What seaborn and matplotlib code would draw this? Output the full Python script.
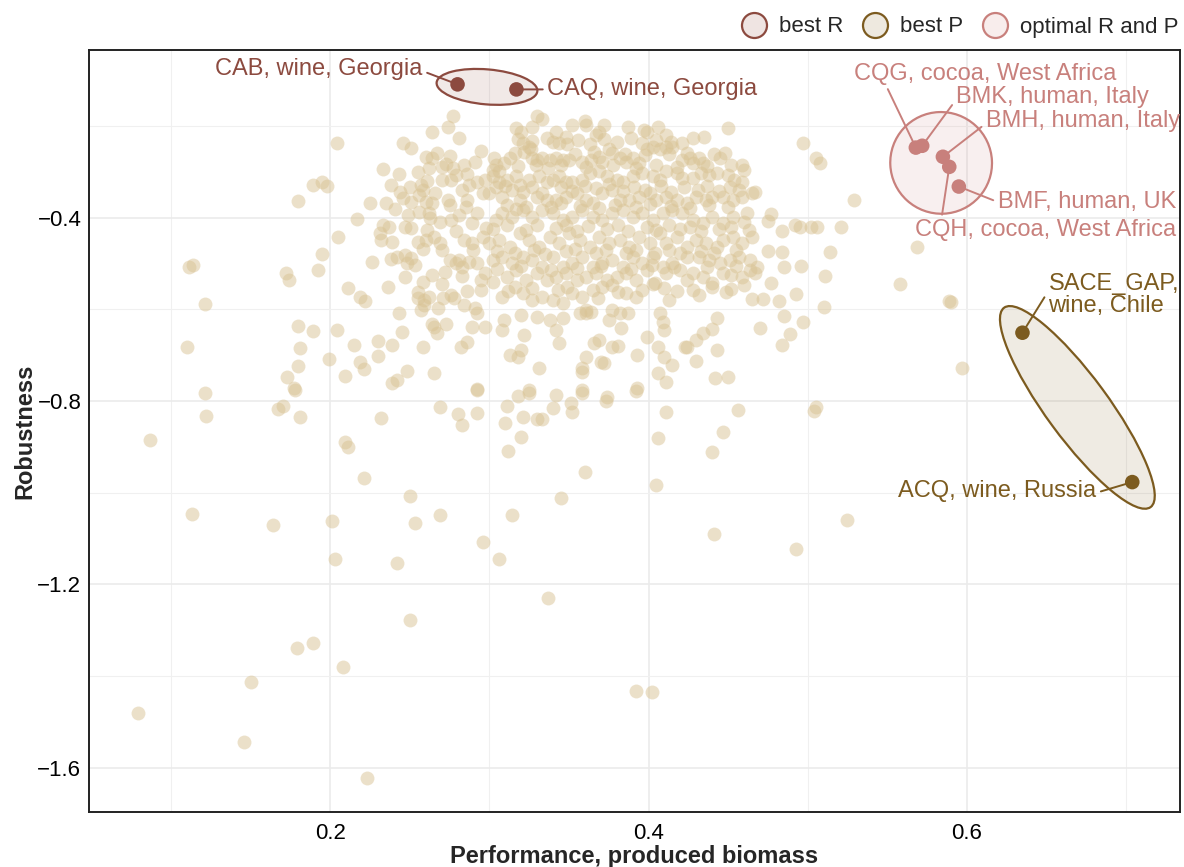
import numpy as np
import pandas as pd
import matplotlib
matplotlib.use("Agg")
import matplotlib.pyplot as plt
import seaborn as sns
from matplotlib.patches import Ellipse
from matplotlib.lines import Line2D
from matplotlib.transforms import IdentityTransform
from matplotlib.colors import to_rgba
from matplotlib.ticker import MultipleLocator

# --- datos: (performance, robustness) para el resto de organismos ---
cloud_outer = [
    (0.121, -0.783), (0.122, -0.833), (0.167, -0.817), (0.170, -0.811), (0.178, -0.776), (0.181, -0.835),
    (0.087, -0.885), (0.232, -0.837), (0.209, -0.890), (0.211, -0.901), (0.221, -0.968), (0.269, -0.813),
    (0.280, -0.828), (0.283, -0.852), (0.292, -0.826), (0.292, -0.776), (0.311, -0.811), (0.310, -0.848),
    (0.318, -0.789), (0.325, -0.783), (0.321, -0.835), (0.320, -0.879), (0.312, -0.909), (0.330, -0.839),
    (0.250, -1.008), (0.113, -1.047), (0.164, -1.071), (0.201, -1.062), (0.253, -1.067), (0.269, -1.049),
    (0.314, -1.049), (0.296, -1.108), (0.203, -1.145), (0.242, -1.154), (0.306, -1.145), (0.250, -1.279),
    (0.179, -1.340), (0.189, -1.329), (0.208, -1.381), (0.150, -1.414), (0.079, -1.480), (0.146, -1.545),
    (0.223, -1.622), (0.342, -0.787), (0.358, -0.783), (0.392, -0.778), (0.340, -0.815), (0.351, -0.804),
    (0.352, -0.824), (0.333, -0.839), (0.373, -0.800), (0.411, -0.824), (0.456, -0.820), (0.505, -0.813),
    (0.504, -0.822), (0.406, -0.881), (0.447, -0.868), (0.440, -0.911), (0.360, -0.955), (0.405, -0.984),
    (0.345, -1.012), (0.441, -1.091), (0.493, -1.123), (0.525, -1.060), (0.337, -1.231), (0.392, -1.432),
    (0.402, -1.436), (0.497, -0.238), (0.505, -0.269), (0.508, -0.280), (0.529, -0.361), (0.492, -0.417),
    (0.495, -0.420), (0.502, -0.420), (0.506, -0.420), (0.521, -0.420), (0.484, -0.428), (0.484, -0.474),
    (0.514, -0.474), (0.485, -0.507), (0.496, -0.505), (0.511, -0.527), (0.569, -0.463), (0.558, -0.544),
    (0.589, -0.581), (0.590, -0.584), (0.482, -0.581), (0.493, -0.566), (0.485, -0.614), (0.510, -0.595),
    (0.497, -0.627), (0.489, -0.654), (0.484, -0.678), (0.597, -0.728), (0.477, -0.391), (0.475, -0.407),
    (0.475, -0.472), (0.477, -0.542), (0.472, -0.577), (0.465, -0.577), (0.470, -0.640), (0.467, -0.343),
    (0.459, -0.286), (0.460, -0.295), (0.450, -0.205), (0.435, -0.223),
]

cloud_left = [
    (0.277, -0.177), (0.264, -0.212), (0.274, -0.203), (0.281, -0.227), (0.204, -0.238), (0.246, -0.236),
    (0.251, -0.247), (0.295, -0.254), (0.260, -0.267), (0.264, -0.269), (0.267, -0.258), (0.233, -0.293),
    (0.243, -0.304), (0.270, -0.289), (0.273, -0.282), (0.277, -0.291), (0.279, -0.306), (0.270, -0.317),
    (0.276, -0.317), (0.189, -0.328), (0.195, -0.323), (0.198, -0.330), (0.238, -0.328), (0.244, -0.343),
    (0.250, -0.332), (0.257, -0.328), (0.258, -0.339), (0.256, -0.350), (0.180, -0.363), (0.225, -0.367),
    (0.235, -0.369), (0.241, -0.380), (0.251, -0.365), (0.260, -0.365), (0.264, -0.367), (0.274, -0.361),
    (0.275, -0.372), (0.286, -0.361), (0.287, -0.328), (0.292, -0.321), (0.297, -0.317), (0.296, -0.345),
    (0.217, -0.402), (0.256, -0.387), (0.262, -0.389), (0.269, -0.409), (0.276, -0.404), (0.289, -0.411),
    (0.292, -0.389), (0.233, -0.415), (0.237, -0.420), (0.231, -0.433), (0.232, -0.448), (0.239, -0.452),
    (0.247, -0.420), (0.251, -0.422), (0.205, -0.442), (0.255, -0.452), (0.260, -0.448), (0.269, -0.455),
    (0.265, -0.442), (0.284, -0.448), (0.289, -0.455), (0.296, -0.442), (0.298, -0.422), (0.195, -0.479),
    (0.226, -0.496), (0.238, -0.490), (0.242, -0.485), (0.247, -0.481), (0.251, -0.487), (0.253, -0.503),
    (0.248, -0.498), (0.275, -0.492), (0.279, -0.498), (0.283, -0.507), (0.287, -0.496), (0.292, -0.498),
    (0.281, -0.492), (0.247, -0.529), (0.258, -0.540), (0.264, -0.525), (0.272, -0.518), (0.295, -0.536),
    (0.297, -0.520), (0.111, -0.507), (0.114, -0.503), (0.172, -0.520), (0.174, -0.536), (0.192, -0.514),
    (0.211, -0.553), (0.236, -0.551), (0.219, -0.573), (0.222, -0.581), (0.255, -0.562), (0.255, -0.575),
    (0.259, -0.579), (0.262, -0.573), (0.271, -0.575), (0.276, -0.568), (0.278, -0.575), (0.286, -0.560),
    (0.295, -0.557), (0.257, -0.601), (0.259, -0.590), (0.291, -0.597), (0.292, -0.608), (0.121, -0.588),
    (0.243, -0.608), (0.180, -0.636), (0.189, -0.647), (0.204, -0.645), (0.264, -0.632), (0.265, -0.638),
    (0.267, -0.651), (0.273, -0.632), (0.289, -0.638), (0.297, -0.638), (0.245, -0.649), (0.110, -0.682),
    (0.181, -0.684), (0.215, -0.678), (0.230, -0.669), (0.230, -0.702), (0.239, -0.678), (0.258, -0.682),
    (0.282, -0.682), (0.286, -0.671), (0.199, -0.708), (0.180, -0.723), (0.173, -0.748), (0.177, -0.772),
    (0.209, -0.745), (0.219, -0.715), (0.221, -0.730), (0.239, -0.761), (0.242, -0.754), (0.248, -0.734),
    (0.265, -0.739), (0.292, -0.774),
    (0.249, -0.395), (0.263, -0.400), (0.281, -0.395), (0.285, -0.377), (0.283, -0.340), (0.261, -0.320),
    (0.266, -0.345), (0.246, -0.356), (0.255, -0.300), (0.262, -0.291), (0.286, -0.305), (0.291, -0.278),
    (0.284, -0.284), (0.275, -0.265), (0.261, -0.427), (0.279, -0.430), (0.290, -0.470), (0.270, -0.470),
    (0.258, -0.468), (0.283, -0.527), (0.270, -0.545), (0.284, -0.590), (0.268, -0.598),
]

cloud_core_top = [
    (0.330, -0.179), (0.333, -0.184), (0.317, -0.205), (0.320, -0.214), (0.327, -0.201), (0.352, -0.197),
    (0.360, -0.188), (0.361, -0.197), (0.372, -0.197), (0.369, -0.214), (0.367, -0.219), (0.387, -0.203),
    (0.397, -0.208), (0.399, -0.214), (0.406, -0.201), (0.411, -0.219), (0.421, -0.236), (0.414, -0.234),
    (0.342, -0.214), (0.348, -0.223), (0.349, -0.240), (0.340, -0.234), (0.321, -0.236), (0.325, -0.245),
    (0.318, -0.228), (0.327, -0.232), (0.336, -0.226), (0.344, -0.236), (0.356, -0.230), (0.363, -0.240),
    (0.372, -0.228), (0.380, -0.235), (0.389, -0.226), (0.396, -0.238), (0.405, -0.230), (0.428, -0.226),
    (0.303, -0.269), (0.304, -0.284), (0.302, -0.295), (0.306, -0.299), (0.313, -0.269), (0.316, -0.258),
    (0.322, -0.256), (0.326, -0.251), (0.327, -0.269), (0.330, -0.273), (0.333, -0.269), (0.338, -0.273),
    (0.342, -0.269), (0.346, -0.273), (0.350, -0.273), (0.358, -0.278), (0.364, -0.273), (0.369, -0.267),
    (0.371, -0.278), (0.375, -0.251), (0.377, -0.258), (0.382, -0.269), (0.386, -0.278), (0.390, -0.269),
    (0.394, -0.280), (0.399, -0.251), (0.403, -0.245), (0.407, -0.251), (0.411, -0.245), (0.415, -0.245),
    (0.421, -0.273), (0.426, -0.269), (0.428, -0.280), (0.432, -0.269), (0.434, -0.280), (0.445, -0.269),
    (0.448, -0.258),
    (0.309, -0.280), (0.318, -0.287), (0.329, -0.284), (0.337, -0.291), (0.345, -0.286), (0.354, -0.262),
    (0.361, -0.290), (0.366, -0.256), (0.378, -0.286), (0.385, -0.262), (0.392, -0.291), (0.398, -0.264),
    (0.405, -0.284), (0.413, -0.262), (0.418, -0.289), (0.424, -0.258), (0.437, -0.287), (0.441, -0.262),
    (0.452, -0.284),
    (0.302, -0.310), (0.306, -0.323), (0.311, -0.317), (0.317, -0.310), (0.319, -0.328), (0.325, -0.317),
    (0.331, -0.310), (0.336, -0.323), (0.340, -0.317), (0.344, -0.310), (0.348, -0.323), (0.352, -0.323),
    (0.358, -0.317), (0.363, -0.302), (0.369, -0.299), (0.374, -0.310), (0.380, -0.317), (0.384, -0.323),
    (0.390, -0.310), (0.396, -0.302), (0.403, -0.310), (0.407, -0.317), (0.411, -0.299), (0.418, -0.302),
    (0.421, -0.313), (0.428, -0.313), (0.433, -0.302), (0.438, -0.306), (0.443, -0.302), (0.450, -0.306),
    (0.454, -0.317), (0.459, -0.323),
]

cloud_core_mid = [
    (0.300, -0.345), (0.310, -0.330), (0.321, -0.343), (0.327, -0.332), (0.333, -0.345), (0.345, -0.334),
    (0.352, -0.341), (0.360, -0.330), (0.367, -0.336), (0.375, -0.326), (0.384, -0.341), (0.391, -0.332),
    (0.398, -0.339), (0.408, -0.330), (0.414, -0.343), (0.422, -0.334), (0.431, -0.339), (0.437, -0.330),
    (0.444, -0.341), (0.451, -0.334), (0.457, -0.339),
    (0.304, -0.334), (0.308, -0.354), (0.314, -0.339), (0.319, -0.361), (0.323, -0.376), (0.330, -0.354),
    (0.336, -0.361), (0.342, -0.361), (0.348, -0.354), (0.355, -0.345), (0.361, -0.361), (0.365, -0.367),
    (0.371, -0.345), (0.377, -0.339), (0.382, -0.361), (0.388, -0.361), (0.394, -0.354), (0.401, -0.345),
    (0.405, -0.361), (0.411, -0.354), (0.418, -0.361), (0.424, -0.367), (0.430, -0.354), (0.436, -0.361),
    (0.440, -0.354), (0.447, -0.354), (0.453, -0.361), (0.459, -0.354), (0.465, -0.345),
    (0.311, -0.372), (0.317, -0.380), (0.339, -0.376), (0.345, -0.369), (0.357, -0.374), (0.369, -0.378),
    (0.379, -0.372), (0.392, -0.376), (0.401, -0.370), (0.414, -0.374), (0.426, -0.378), (0.438, -0.372),
    (0.450, -0.376),
    (0.304, -0.404), (0.308, -0.389), (0.314, -0.398), (0.321, -0.383), (0.327, -0.398), (0.333, -0.383),
    (0.340, -0.389), (0.346, -0.404), (0.352, -0.398), (0.358, -0.383), (0.365, -0.398), (0.371, -0.404),
    (0.377, -0.389), (0.384, -0.383), (0.390, -0.398), (0.396, -0.389), (0.403, -0.404), (0.409, -0.389),
    (0.415, -0.383), (0.421, -0.389), (0.428, -0.404), (0.434, -0.411), (0.440, -0.398), (0.447, -0.411),
    (0.453, -0.398), (0.462, -0.389), (0.460, -0.409),
    (0.302, -0.424), (0.311, -0.417), (0.323, -0.426), (0.330, -0.415), (0.342, -0.422), (0.348, -0.417),
    (0.355, -0.428), (0.362, -0.419), (0.374, -0.424), (0.381, -0.415), (0.387, -0.428), (0.399, -0.420),
    (0.405, -0.426), (0.413, -0.415), (0.420, -0.424), (0.426, -0.420), (0.433, -0.430), (0.444, -0.424),
    (0.452, -0.420), (0.463, -0.426),
    (0.300, -0.455), (0.306, -0.448), (0.313, -0.463), (0.319, -0.433), (0.325, -0.448), (0.331, -0.463),
    (0.338, -0.442), (0.344, -0.455), (0.350, -0.433), (0.357, -0.448), (0.363, -0.463), (0.369, -0.442),
    (0.375, -0.455), (0.382, -0.448), (0.388, -0.463), (0.394, -0.442), (0.401, -0.455), (0.407, -0.433),
    (0.411, -0.455), (0.418, -0.442), (0.424, -0.463), (0.430, -0.448), (0.436, -0.455), (0.443, -0.463),
    (0.447, -0.448), (0.453, -0.442), (0.459, -0.455), (0.465, -0.442),
    (0.305, -0.472), (0.316, -0.478), (0.328, -0.470), (0.335, -0.480), (0.348, -0.472), (0.354, -0.468),
    (0.367, -0.476), (0.373, -0.470), (0.386, -0.478), (0.392, -0.470), (0.404, -0.476), (0.413, -0.470),
    (0.420, -0.478), (0.433, -0.472), (0.441, -0.478), (0.455, -0.470),
    (0.302, -0.492), (0.308, -0.485), (0.314, -0.498), (0.321, -0.485), (0.327, -0.492), (0.333, -0.507),
    (0.340, -0.485), (0.346, -0.507), (0.352, -0.498), (0.358, -0.485), (0.365, -0.507), (0.371, -0.498),
    (0.377, -0.492), (0.384, -0.507), (0.390, -0.485), (0.396, -0.498), (0.403, -0.485), (0.409, -0.507),
    (0.415, -0.498), (0.424, -0.485), (0.432, -0.485), (0.438, -0.492), (0.445, -0.498), (0.451, -0.492),
    (0.457, -0.485), (0.464, -0.492), (0.468, -0.507),
]

cloud_core_low = [
    (0.305, -0.512), (0.320, -0.505), (0.339, -0.514), (0.355, -0.510), (0.370, -0.505), (0.389, -0.512),
    (0.402, -0.503), (0.420, -0.514), (0.437, -0.507), (0.455, -0.505),
    (0.302, -0.540), (0.311, -0.529), (0.317, -0.514), (0.323, -0.536), (0.330, -0.520), (0.336, -0.536),
    (0.342, -0.529), (0.348, -0.520), (0.355, -0.536), (0.361, -0.529), (0.367, -0.520), (0.374, -0.536),
    (0.380, -0.529), (0.386, -0.520), (0.392, -0.536), (0.399, -0.514), (0.404, -0.542), (0.411, -0.520),
    (0.416, -0.507), (0.424, -0.536), (0.428, -0.520), (0.434, -0.529), (0.440, -0.542), (0.447, -0.520),
    (0.452, -0.525), (0.459, -0.529), (0.464, -0.514), (0.467, -0.520),
    (0.312, -0.560), (0.327, -0.553), (0.343, -0.557), (0.349, -0.551), (0.365, -0.557), (0.371, -0.551),
    (0.396, -0.557), (0.410, -0.553), (0.418, -0.560), (0.452, -0.555),
    (0.308, -0.573), (0.316, -0.551), (0.321, -0.564), (0.327, -0.579), (0.333, -0.573), (0.340, -0.579),
    (0.346, -0.586), (0.352, -0.564), (0.358, -0.573), (0.361, -0.601), (0.368, -0.575), (0.377, -0.546),
    (0.381, -0.562), (0.386, -0.564), (0.392, -0.573), (0.403, -0.544), (0.413, -0.579), (0.428, -0.557),
    (0.432, -0.568), (0.440, -0.551), (0.449, -0.562), (0.460, -0.546),
    (0.309, -0.623), (0.308, -0.645), (0.320, -0.612), (0.322, -0.656), (0.330, -0.616), (0.338, -0.623),
    (0.342, -0.645), (0.346, -0.619), (0.357, -0.608), (0.361, -0.608), (0.364, -0.605), (0.375, -0.623),
    (0.377, -0.601), (0.382, -0.608), (0.387, -0.608), (0.383, -0.640), (0.377, -0.682), (0.369, -0.667),
    (0.407, -0.608), (0.409, -0.627), (0.410, -0.645), (0.424, -0.682), (0.430, -0.667), (0.434, -0.651),
    (0.440, -0.643), (0.443, -0.619), (0.443, -0.689), (0.430, -0.713),
    (0.313, -0.699), (0.318, -0.704), (0.320, -0.689), (0.325, -0.776), (0.331, -0.728), (0.344, -0.673),
    (0.358, -0.728), (0.358, -0.737), (0.358, -0.776), (0.361, -0.704), (0.366, -0.673), (0.370, -0.715),
    (0.372, -0.717), (0.374, -0.791), (0.381, -0.680), (0.393, -0.699), (0.393, -0.772), (0.399, -0.660),
    (0.406, -0.682), (0.410, -0.704), (0.406, -0.739), (0.411, -0.758), (0.415, -0.721), (0.423, -0.682),
    (0.442, -0.750), (0.450, -0.748),
]

# --- organismos destacados ---
best_r_names = ["CAB, wine, Georgia", "CAQ, wine, Georgia"]
best_r_perf = [0.280, 0.317]
best_r_rob = [-0.109, -0.120]

best_p_names = ["SACE_GAP,\nwine, Chile", "ACQ, wine, Russia"]
best_p_perf = [0.635, 0.704]
best_p_rob = [-0.651, -0.977]

optimal_names = ["CQG, cocoa, West Africa", "BMK, human, Italy", "BMH, human, Italy",
                 "CQH, cocoa, West Africa", "BMF, human, UK"]
optimal_perf = [0.568, 0.572, 0.585, 0.589, 0.595]
optimal_rob = [-0.247, -0.243, -0.267, -0.289, -0.332]

group_labels = ["best R", "best P", "optimal R and P"]

# cores
cor_fundo = "#D9C394"
cores_grupo = {"best R": "#8C4A3F", "best P": "#7C5B1F", "optimal R and P": "#C8807C"}

# posicao dos rotulos (deslocamento em pixels, alinhamento, ponto de saida da linha)
estilo_rotulos = {
    "CAB, wine, Georgia": ((-35, 15.5), "right", (1.0, 0.4)),
    "CAQ, wine, Georgia": ((31, 0), "left", (0.0, 0.5)),
    "CQG, cocoa, West Africa": ((69.5, 74), "center", (0.12, 0.0)),
    "BMK, human, Italy": ((34, 48.5), "left", (0.0, 0.4)),
    "BMH, human, Italy": ((43, 35.5), "left", (0.0, 0.4)),
    "CQH, cocoa, West Africa": ((-34, -63.5), "left", (0.1, 1.0)),
    "BMF, human, UK": ((39, -15.5), "left", (0.0, 0.5)),
    "SACE_GAP,\nwine, Chile": ((26, 37.5), "left", (0.0, 0.6)),
    "ACQ, wine, Russia": ((-36, -8.5), "right", (1.0, 0.4)),
}

# --- montagem dos dataframes ---
todos = cloud_outer + cloud_left + cloud_core_top + cloud_core_mid + cloud_core_low
df_fundo = pd.DataFrame(todos, columns=["performance", "robustness"])

df_dest = pd.concat([
    pd.DataFrame({"name": best_r_names, "performance": best_r_perf, "robustness": best_r_rob, "group": "best R"}),
    pd.DataFrame({"name": best_p_names, "performance": best_p_perf, "robustness": best_p_rob, "group": "best P"}),
    pd.DataFrame({"name": optimal_names, "performance": optimal_perf, "robustness": optimal_rob,
                  "group": "optimal R and P"}),
], ignore_index=True)

sns.set_theme(style="white")
plt.rcParams["font.family"] = ["Liberation Sans", "DejaVu Sans"]
plt.rcParams["axes.unicode_minus"] = True

fig = plt.figure(figsize=(11.84, 8.67), dpi=100)
ax = fig.add_axes([89 / 1184, 1 - 812 / 867, (1180 - 89) / 1184, (812 - 50) / 867])
ax.set_xlim(0.0484, 0.734)
ax.set_ylim(-1.697, -0.034)

sns.scatterplot(data=df_fundo, x="performance", y="robustness", color=cor_fundo, alpha=0.5,
                s=100, linewidth=0, ax=ax, zorder=2, legend=False)


def desenhar_elipse(ax, xs, ys, pad_maior, pad_menor, cor):
    pts = ax.transData.transform(np.column_stack([xs, ys]))
    c = pts.mean(axis=0)
    d = pts - c
    _, _, vt = np.linalg.svd(d)
    u = vt[0]
    v = np.array([-u[1], u[0]])
    a = d @ u
    b = d @ v
    centro = c + u * (a.max() + a.min()) / 2 + v * (b.max() + b.min()) / 2
    sa = (a.max() - a.min()) / 2 + pad_maior
    sb = (b.max() - b.min()) / 2 + pad_menor
    ang = np.degrees(np.arctan2(u[1], u[0]))
    e = Ellipse(centro, 2 * sa, 2 * sb, angle=ang, transform=IdentityTransform(),
                facecolor=to_rgba(cor, 0.12), edgecolor=cor, lw=1.6, zorder=3)
    ax.add_patch(e)


desenhar_elipse(ax, best_r_perf, best_r_rob, 21, 17.5, cores_grupo["best R"])
desenhar_elipse(ax, best_p_perf, best_p_rob, 31, 31, cores_grupo["best P"])
desenhar_elipse(ax, optimal_perf, optimal_rob, 22, 45, cores_grupo["optimal R and P"])

sns.scatterplot(data=df_dest, x="performance", y="robustness", hue="group", palette=cores_grupo,
                s=110, linewidth=0, ax=ax, zorder=4, legend=False)

for _, linha in df_dest.iterrows():
    (dx, dy), ha, relpos = estilo_rotulos[linha["name"]]
    cor = cores_grupo[linha["group"]]
    ax.annotate(linha["name"], xy=(linha["performance"], linha["robustness"]), xytext=(dx, dy),
                textcoords="offset pixels", ha=ha, va="center", color=cor, fontsize=17,
                linespacing=1.0, zorder=5,
                arrowprops=dict(arrowstyle="-", color=cor, lw=1.4, shrinkA=1, shrinkB=0, relpos=relpos))

# eixos e grade no estilo theme_bw
ax.xaxis.set_major_locator(MultipleLocator(0.2))
ax.xaxis.set_minor_locator(MultipleLocator(0.1))
ax.yaxis.set_major_locator(MultipleLocator(0.4))
ax.yaxis.set_minor_locator(MultipleLocator(0.2))
ax.grid(which="major", color="#EBEBEB", lw=1.2, zorder=0)
ax.grid(which="minor", color="#F0F0F0", lw=0.8, zorder=0)
ax.set_axisbelow(True)
ax.tick_params(which="major", length=4, width=1, color="#333333", labelsize=16, labelcolor="black")
ax.tick_params(axis="x", which="major", pad=4)
ax.tick_params(axis="y", which="major", pad=1.5)
ax.tick_params(which="minor", length=0)
for sp in ax.spines.values():
    sp.set_color("#222222")
    sp.set_linewidth(1.4)

ax.set_xlabel("Performance, produced biomass", fontsize=17, fontweight="bold", labelpad=0.5)
ax.set_ylabel("Robustness", fontsize=17, fontweight="bold", labelpad=1)

# legenda no topo
fundos = {"best R": "#EFE4E2", "best P": "#EEE9DF", "optimal R and P": "#F8EDEC"}
handles = [Line2D([], [], marker="o", linestyle="", markersize=18, markerfacecolor=fundos[g],
                  markeredgecolor=cores_grupo[g], markeredgewidth=1.6) for g in group_labels]
fig.legend(handles, group_labels, loc="center right", bbox_to_anchor=(1178 / 1184, 1 - 27 / 867),
           ncol=3, frameon=False, fontsize=16, handlelength=1.2, handletextpad=0.5,
           columnspacing=0.85, borderaxespad=0, borderpad=0)

fig.savefig("out.png", dpi=100)
